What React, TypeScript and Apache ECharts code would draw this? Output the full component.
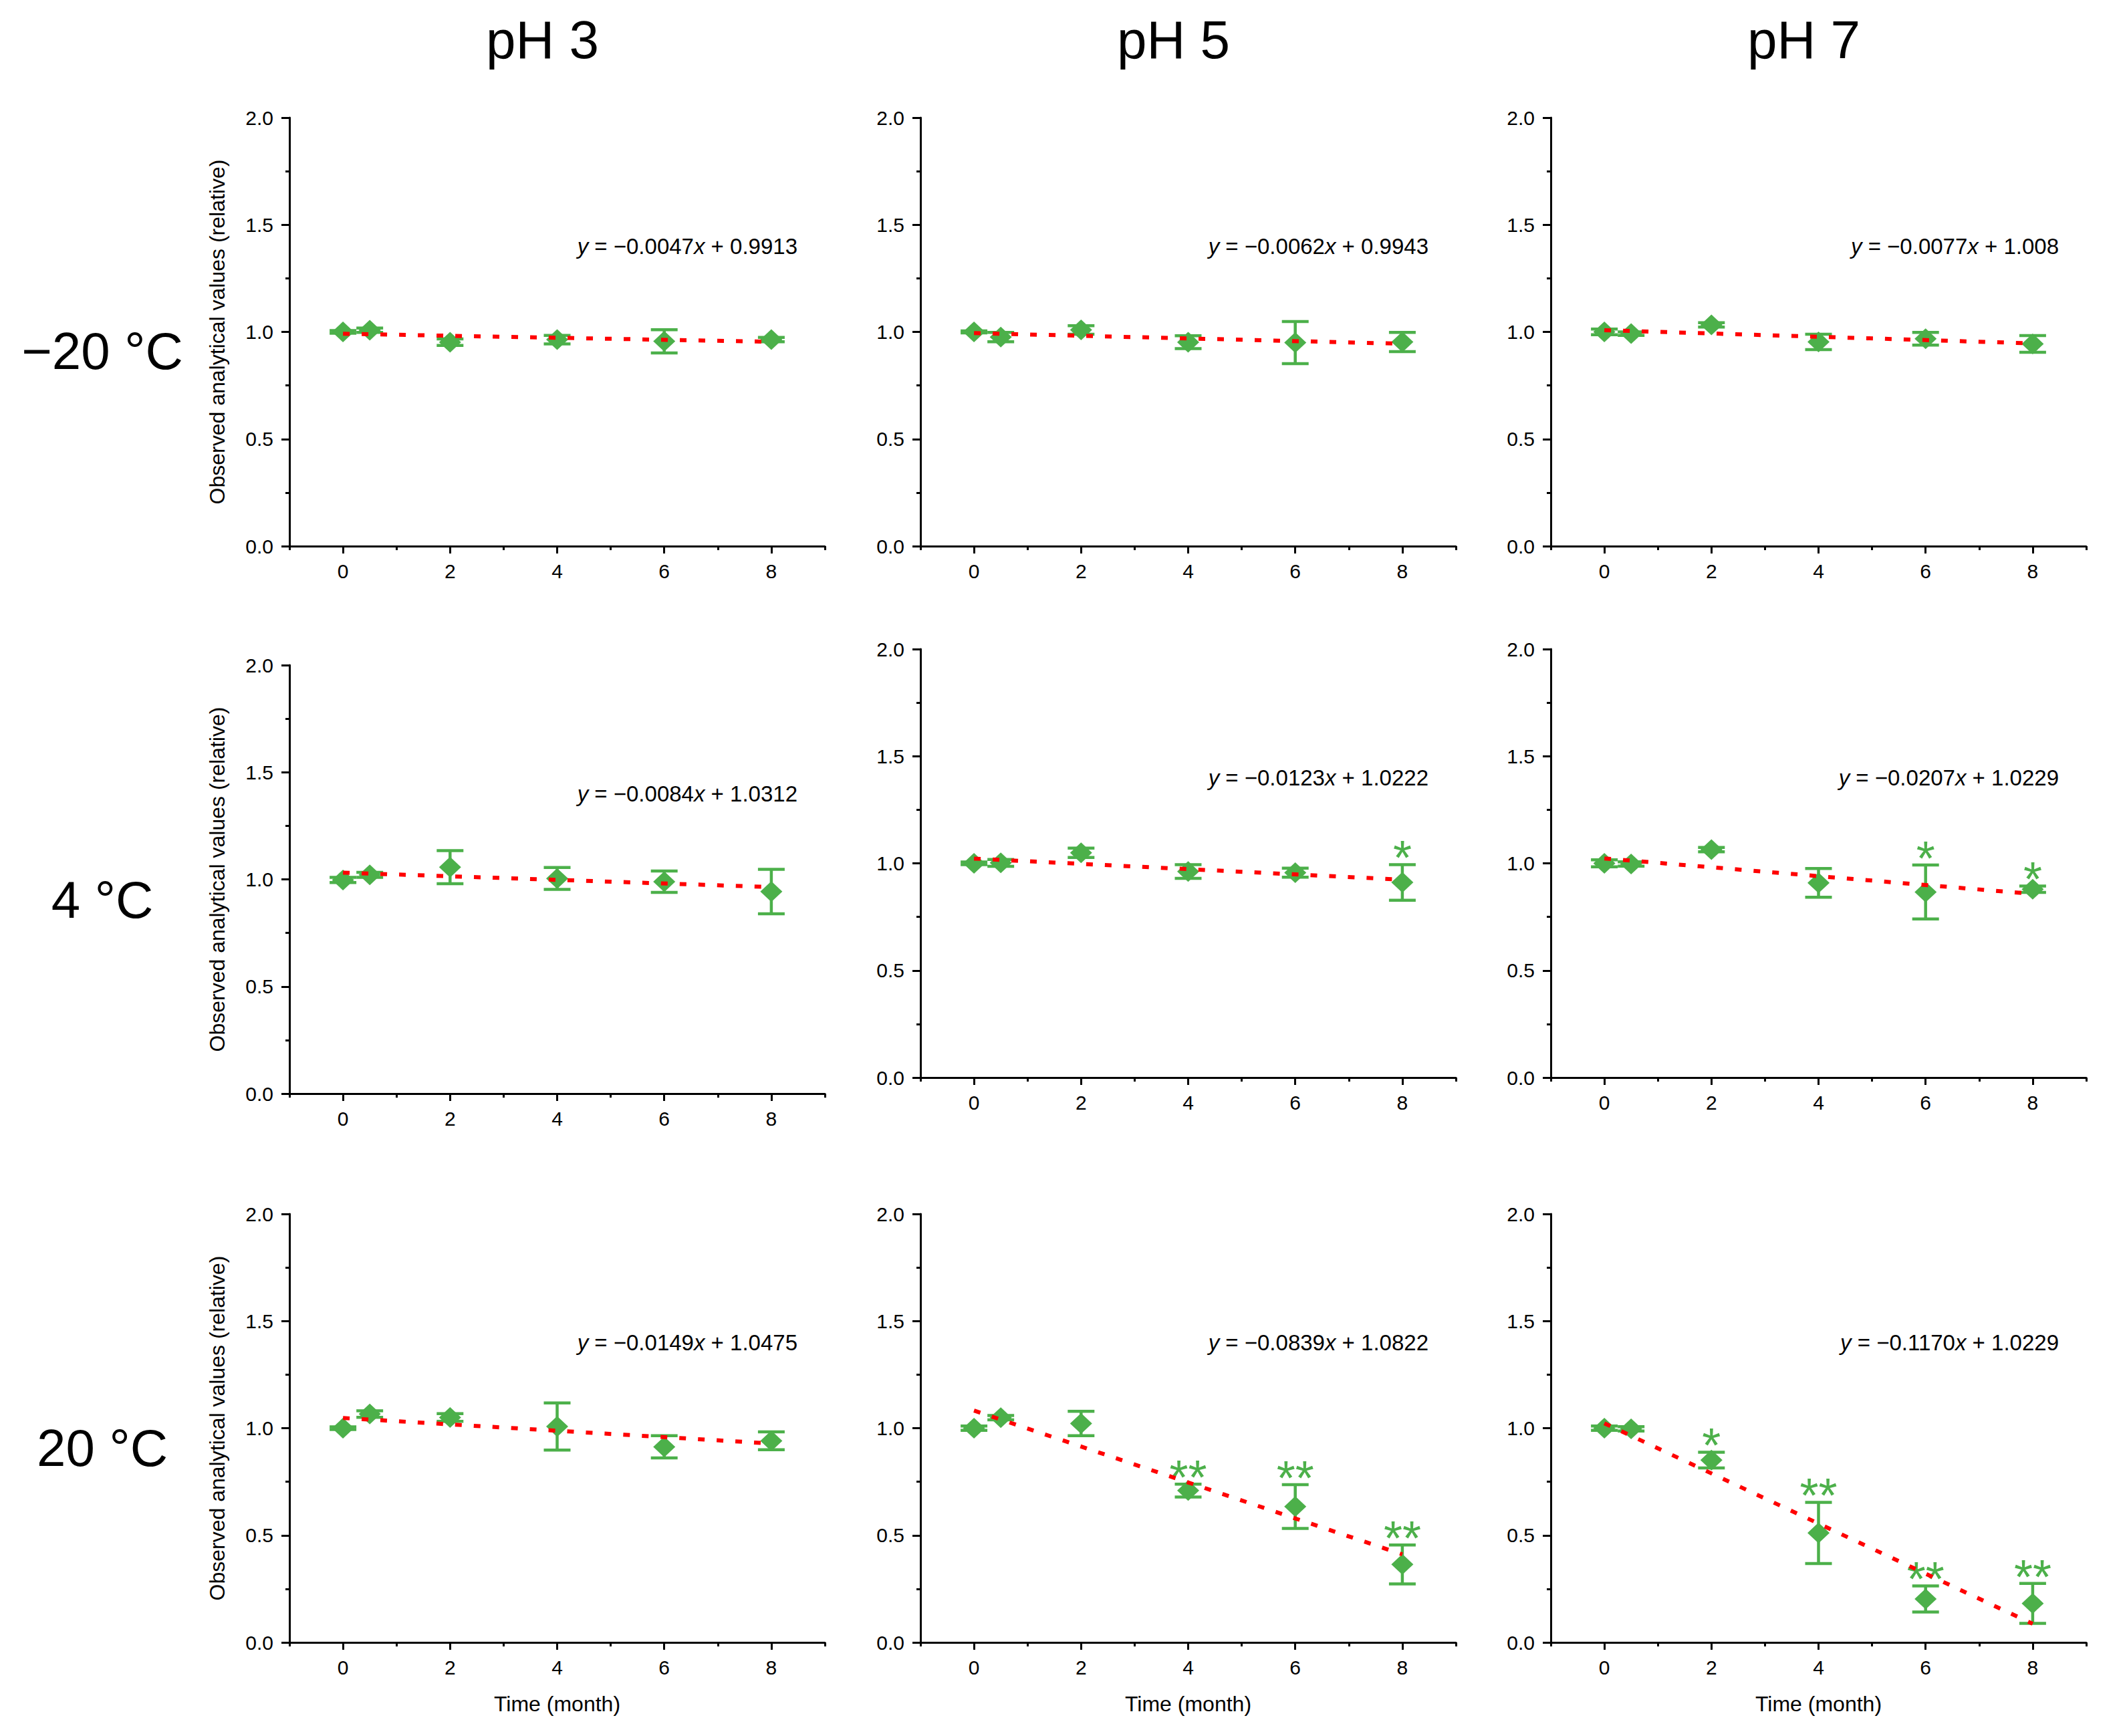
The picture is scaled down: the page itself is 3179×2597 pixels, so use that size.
import React, { useEffect, useRef } from "react";
import * as echarts from "echarts";

// sampling times (month)
const times = [0, 0.5, 2, 4, 6, 8];
const rowLabels = ["\u221220 \u00B0C", "4 \u00B0C", "20 \u00B0C"];
const colLabels = ["pH 3", "pH 5", "pH 7"];
const xLabelValues = [0, 2, 4, 6, 8];
const xMinorValues = [-1, 1, 3, 5, 7, 9];

// -20 °C
const meanM20pH3 = [1.0, 1.008, 0.952, 0.964, 0.956, 0.964];
const errM20pH3 = [0.006, 0.01, 0.015, 0.02, 0.054, 0.01];
const meanM20pH5 = [1.0, 0.976, 1.009, 0.952, 0.95, 0.953];
const errM20pH5 = [0.005, 0.022, 0.02, 0.03, 0.098, 0.045];
const meanM20pH7 = [1.0, 0.992, 1.033, 0.953, 0.968, 0.944];
const errM20pH7 = [0.013, 0.008, 0.01, 0.036, 0.03, 0.039];

// 4 °C
const mean4pH3 = [0.997, 1.021, 1.057, 1.004, 0.989, 0.943];
const err4pH3 = [0.012, 0.012, 0.077, 0.051, 0.05, 0.104];
const mean4pH5 = [1.0, 1.002, 1.049, 0.962, 0.956, 0.911];
const err4pH5 = [0.006, 0.016, 0.022, 0.032, 0.021, 0.083];
const mean4pH7 = [1.0, 0.997, 1.064, 0.909, 0.866, 0.879];
const err4pH7 = [0.016, 0.01, 0.01, 0.067, 0.126, 0.015];

// 20 °C
const mean20pH3 = [1.0, 1.066, 1.05, 1.008, 0.913, 0.941];
const err20pH3 = [0.006, 0.015, 0.018, 0.11, 0.052, 0.042];
const mean20pH5 = [1.0, 1.049, 1.022, 0.709, 0.634, 0.364];
const err20pH5 = [0.01, 0.01, 0.057, 0.03, 0.102, 0.091];
const mean20pH7 = [1.0, 0.997, 0.851, 0.511, 0.203, 0.182];
const err20pH7 = [0.01, 0.01, 0.037, 0.143, 0.061, 0.093];

// significance marks
const noStars = ["", "", "", "", "", ""];
const stars4pH5 = ["", "", "", "", "", "*"];
const stars4pH7 = ["", "", "", "", "*", "*"];
const stars20pH5 = ["", "", "", "**", "**", "**"];
const stars20pH7 = ["", "", "*", "**", "**", "**"];

// linear fits, row by row
const slopes = [-0.0047, -0.0062, -0.0077, -0.0084, -0.0123, -0.0207, -0.0149, -0.0839, -0.117];
const intercepts = [0.9913, 0.9943, 1.008, 1.0312, 1.0222, 1.0229, 1.0475, 1.0822, 1.0229];

const panels = [
  { mean: meanM20pH3, err: errM20pH3, stars: noStars },
  { mean: meanM20pH5, err: errM20pH5, stars: noStars },
  { mean: meanM20pH7, err: errM20pH7, stars: noStars },
  { mean: mean4pH3, err: err4pH3, stars: noStars },
  { mean: mean4pH5, err: err4pH5, stars: stars4pH5 },
  { mean: mean4pH7, err: err4pH7, stars: stars4pH7 },
  { mean: mean20pH3, err: err20pH3, stars: noStars },
  { mean: mean20pH5, err: err20pH5, stars: stars20pH5 },
  { mean: mean20pH7, err: err20pH7, stars: stars20pH7 },
];

const FONT = "'Liberation Sans', Arial, sans-serif";
const GREEN = "#4cb04a";
const COL_LEFT = [433, 1377, 2320];
const ROW_TOP = [
  [176, 176, 176],
  [995, 971, 971],
  [1816, 1816, 1816],
];
const W = 801;
const H = 641;

const axisLineStyle = { color: "#000", width: 3 };

const App = () => {
  const chartRef = useRef<HTMLDivElement>(null);

  useEffect(() => {
    document.body.style.margin = "0";
    if (!chartRef.current) return;
    const chart = echarts.init(chartRef.current, null, { renderer: "svg" });

    const grid: any[] = [];
    const xAxis: any[] = [];
    const yAxis: any[] = [];
    const series: any[] = [];
    const graphic: any[] = [];

    panels.forEach((p, i) => {
      const r = Math.floor(i / 3);
      const c = i % 3;
      const left = COL_LEFT[c];
      const top = ROW_TOP[r][c];
      grid.push({ left, top, width: W, height: H, outerBoundsMode: "none" });

      xAxis.push({
        type: "value",
        gridIndex: i,
        min: -1,
        max: 9,
        interval: 1,
        position: "bottom",
        axisLine: { onZero: false, lineStyle: axisLineStyle },
        axisTick: { customValues: xLabelValues, length: 11, lineStyle: axisLineStyle },
        axisLabel: {
          customValues: xLabelValues,
          fontSize: 30,
          fontFamily: FONT,
          color: "#000",
          margin: 22,
        },
        splitLine: { show: false },
        name: r === 2 ? "Time (month)" : "",
        nameLocation: "middle",
        nameGap: 76,
        nameTextStyle: { fontSize: 32, fontFamily: FONT, color: "#000" },
      });
      xAxis.push({
        type: "value",
        gridIndex: i,
        min: -1,
        max: 9,
        interval: 1,
        position: "bottom",
        axisLine: { show: false, onZero: false },
        axisTick: { customValues: xMinorValues, length: 6, lineStyle: axisLineStyle },
        axisLabel: { show: false },
        splitLine: { show: false },
      });

      yAxis.push({
        type: "value",
        gridIndex: i,
        min: 0,
        max: 2,
        interval: 0.5,
        axisLine: { show: true, onZero: false, lineStyle: axisLineStyle },
        axisTick: { show: true, length: 12, lineStyle: axisLineStyle },
        minorTick: { show: true, splitNumber: 2, length: 6, lineStyle: axisLineStyle },
        minorSplitLine: { show: false },
        splitLine: { show: false },
        axisLabel: {
          formatter: (v: number) => v.toFixed(1),
          fontSize: 30,
          fontFamily: FONT,
          color: "#000",
          margin: 24,
        },
        name: c === 0 ? "Observed analytical values (relative)" : "",
        nameLocation: "middle",
        nameGap: 92,
        nameTextStyle: { fontSize: 32, fontFamily: FONT, color: "#000" },
      });

      series.push({
        type: "custom",
        xAxisIndex: 2 * i,
        yAxisIndex: i,
        z: 2,
        silent: true,
        encode: { x: 0, y: [1, 2] },
        data: times.map((t, k) => [t, p.mean[k] - p.err[k], p.mean[k] + p.err[k]]),
        renderItem: (params: any, api: any) => {
          const x = api.value(0);
          const lo = api.coord([x, api.value(1)]);
          const hi = api.coord([x, api.value(2)]);
          const half = 20;
          const st = { stroke: GREEN, lineWidth: 4.5 };
          const children: any[] = [
            { type: "line", shape: { x1: lo[0], y1: lo[1], x2: hi[0], y2: hi[1] }, style: st },
            { type: "line", shape: { x1: lo[0] - half, y1: lo[1], x2: lo[0] + half, y2: lo[1] }, style: st },
            { type: "line", shape: { x1: hi[0] - half, y1: hi[1], x2: hi[0] + half, y2: hi[1] }, style: st },
          ];
          const star = p.stars[params.dataIndex];
          if (star) {
            children.push({
              type: "text",
              x: hi[0],
              y: hi[1] - 10,
              style: {
                text: star,
                fill: GREEN,
                fontSize: 72,
                fontFamily: FONT,
                textAlign: "center",
                textVerticalAlign: "middle",
              },
            });
          }
          return { type: "group", children };
        },
      });

      series.push({
        type: "scatter",
        xAxisIndex: 2 * i,
        yAxisIndex: i,
        z: 3,
        symbol: "diamond",
        symbolSize: [33, 31],
        itemStyle: { color: GREEN, opacity: 1 },
        data: times.map((t, k) => [t, p.mean[k]]),
      });

      const m = slopes[i];
      const b = intercepts[i];
      series.push({
        type: "line",
        xAxisIndex: 2 * i,
        yAxisIndex: i,
        z: 4,
        symbol: "none",
        lineStyle: { color: "#ff0000", width: 6, type: [10, 18], cap: "butt" },
        data: [
          [0, b],
          [8, m * 8 + b],
        ],
      });

      const sign = m < 0 ? "\u2212" : "";
      graphic.push({
        type: "text",
        x: left + 760,
        y: top + 192,
        style: {
          text: `{i|y} = ${sign}${Math.abs(m).toFixed(4)}{i|x} + ${String(b)}`,
          rich: { i: { fontStyle: "italic", fontSize: 33, fontFamily: FONT, fill: "#000" } },
          fontSize: 33,
          fontFamily: FONT,
          fill: "#000",
          textAlign: "right",
          textVerticalAlign: "middle",
        },
      });
    });

    colLabels.forEach((t, c) => {
      graphic.push({
        type: "text",
        x: COL_LEFT[c] + W / 2 - 22,
        y: 59,
        style: {
          text: t,
          fontSize: 80,
          fontFamily: FONT,
          fill: "#000",
          textAlign: "center",
          textVerticalAlign: "middle",
        },
      });
    });

    const rowY = [525, 1346, 2166];
    rowLabels.forEach((t, r) => {
      graphic.push({
        type: "text",
        x: 153,
        y: rowY[r],
        style: {
          text: t,
          fontSize: 78,
          fontFamily: FONT,
          fill: "#000",
          textAlign: "center",
          textVerticalAlign: "middle",
        },
      });
    });

    chart.setOption({
      animation: false,
      backgroundColor: "#fff",
      grid,
      xAxis,
      yAxis,
      series,
      graphic: { elements: graphic },
    });

    return () => {
      chart.dispose();
    };
  }, []);

  return <div ref={chartRef} style={{ width: 3179, height: 2597, background: "#fff" }} />;
};

export default App;
